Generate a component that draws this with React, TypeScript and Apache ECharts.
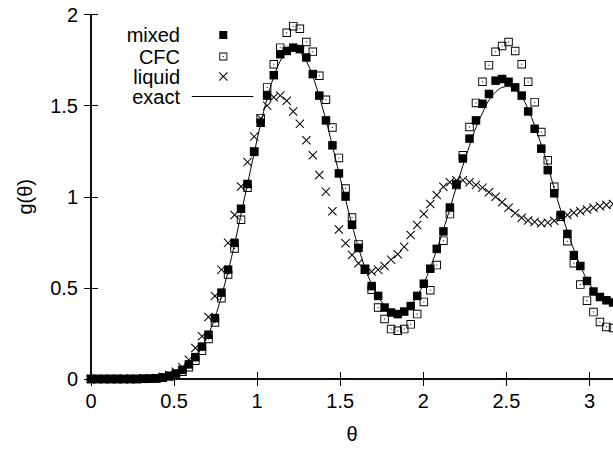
import React, { useEffect, useRef } from "react";
import * as echarts from "echarts";

const theta = [
  0, 0.039, 0.079, 0.118, 0.157, 0.196, 0.236, 0.275, 0.314, 0.353,
  0.393, 0.432, 0.471, 0.511, 0.55, 0.589, 0.628, 0.668, 0.707, 0.746,
  0.785, 0.825, 0.864, 0.903, 0.942, 0.982, 1.021, 1.06, 1.1, 1.139,
  1.178, 1.217, 1.257, 1.296, 1.335, 1.374, 1.414, 1.453, 1.492, 1.532,
  1.571, 1.61, 1.649, 1.689, 1.728, 1.767, 1.806, 1.846, 1.885, 1.924,
  1.963, 2.003, 2.042, 2.081, 2.121, 2.16, 2.199, 2.238, 2.278, 2.317,
  2.356, 2.395, 2.435, 2.474, 2.513, 2.553, 2.592, 2.631, 2.67, 2.71,
  2.749, 2.788, 2.827, 2.867, 2.906, 2.945, 2.985, 3.024, 3.063, 3.102,
  3.142,
];

const mixed = [
  0, 0, 0, 0, 0, 0, 0, 0, 0.001, 0.002,
  0.004, 0.009, 0.018, 0.03, 0.05, 0.08, 0.12, 0.178, 0.243, 0.334,
  0.474, 0.6, 0.747, 0.934, 1.07, 1.246, 1.406, 1.555, 1.667, 1.782,
  1.8, 1.818, 1.81, 1.764, 1.673, 1.555, 1.419, 1.282, 1.128, 1.001,
  0.846, 0.719, 0.605, 0.51, 0.456, 0.392, 0.365, 0.356, 0.37, 0.4,
  0.456, 0.523, 0.605, 0.714, 0.81, 0.941, 1.068, 1.21, 1.319, 1.419,
  1.51, 1.564, 1.637, 1.646, 1.631, 1.6, 1.555, 1.468, 1.373, 1.264,
  1.146, 1.019, 0.9, 0.796, 0.68, 0.62, 0.538, 0.48, 0.45, 0.432,
  0.42,
];

const cfc = [
  0, 0, 0, 0, 0, 0, 0, 0, 0.001, 0.002,
  0.003, 0.007, 0.014, 0.025, 0.04, 0.065, 0.1, 0.155, 0.22, 0.31,
  0.443, 0.574, 0.716, 0.874, 1.05, 1.25, 1.43, 1.6, 1.727, 1.818,
  1.9, 1.936, 1.922, 1.849, 1.795, 1.664, 1.532, 1.38, 1.213, 1.045,
  0.886, 0.74, 0.6, 0.49, 0.392, 0.329, 0.274, 0.265, 0.274, 0.3,
  0.356, 0.423, 0.487, 0.625, 0.759, 0.905, 1.064, 1.228, 1.383, 1.515,
  1.631, 1.722, 1.795, 1.827, 1.849, 1.8, 1.727, 1.631, 1.519, 1.355,
  1.2, 1.055, 0.89, 0.756, 0.635, 0.518, 0.43, 0.367, 0.313, 0.286,
  0.28,
];

const liquid = [
  0, 0, 0, 0, 0, 0, 0, 0, 0.001, 0.002,
  0.005, 0.012, 0.022, 0.04, 0.065, 0.105, 0.17, 0.235, 0.34, 0.455,
  0.6, 0.747, 0.9, 1.056, 1.19, 1.33, 1.43, 1.5, 1.546, 1.555,
  1.527, 1.468, 1.4, 1.31, 1.228, 1.119, 1.028, 0.92, 0.82, 0.745,
  0.68, 0.635, 0.6, 0.59, 0.6, 0.62, 0.655, 0.685, 0.725, 0.79,
  0.845, 0.905, 0.96, 1.01, 1.055, 1.08, 1.09, 1.09, 1.08, 1.065,
  1.05, 1.025, 1.0, 0.97, 0.94, 0.91, 0.885, 0.87, 0.862, 0.855,
  0.858, 0.868, 0.885, 0.9, 0.912, 0.92, 0.93, 0.94, 0.948, 0.955,
  0.96,
];

const exact = [
  0, 0, 0, 0, 0, 0, 0, 0, 0, 0.002,
  0.004, 0.008, 0.016, 0.028, 0.048, 0.078, 0.118, 0.175, 0.245, 0.335,
  0.455, 0.59, 0.74, 0.905, 1.07, 1.24, 1.4, 1.54, 1.66, 1.745,
  1.795, 1.81, 1.795, 1.745, 1.66, 1.55, 1.42, 1.28, 1.13, 0.985,
  0.845, 0.72, 0.61, 0.52, 0.45, 0.405, 0.375, 0.365, 0.375, 0.405,
  0.455, 0.525, 0.61, 0.71, 0.82, 0.935, 1.055, 1.17, 1.28, 1.38,
  1.46, 1.53, 1.575, 1.6, 1.605, 1.59, 1.55, 1.48, 1.39, 1.285,
  1.17, 1.045, 0.925, 0.81, 0.71, 0.62, 0.545, 0.49, 0.45, 0.425,
  0.41,
];

const xTicks = { min: 0, interval: 0.5 };
const yTicks = { min: 0, max: 2, interval: 0.5 };
const seriesNames = ["mixed", "CFC", "liquid", "exact"];

const FONT = "Liberation Sans, Arial, Helvetica, sans-serif";

const OPEN_SQUARE =
  "path://M0,0H10V10H0Z M1.1,1.1V8.9H8.9V1.1Z M4.4,4.4H5.6V5.6H4.4Z";
const CROSS =
  "path://M0,0.8L0.8,0L5,4.2L9.2,0L10,0.8L5.8,5L10,9.2L9.2,10L5,5.8L0.8,10L0,9.2L4.2,5Z";

export default function App() {
  const ref = useRef<HTMLDivElement>(null);

  useEffect(() => {
    if (!ref.current) return;
    const chart = echarts.init(ref.current, undefined, { renderer: "svg" });

    const axisLine = { show: true, lineStyle: { color: "#000", width: 1.5 } };
    const axisTick = { show: true, inside: true, length: 7, lineStyle: { color: "#000", width: 1 } };
    const labelStyle = { color: "#000", fontSize: 20, fontFamily: FONT };
    const legendText = { color: "#000", fontSize: 20, fontFamily: FONT };

    const mk = (vals: number[]) => theta.map((t, k) => [t, vals[k]]);

    const legendBase = {
      orient: "horizontal",
      align: "right",
      padding: 0,
      itemGap: 0,
      selectedMode: false,
      itemWidth: 8,
      itemHeight: 8,
    };

    const option: any = {
      animation: false,
      backgroundColor: "#fff",
      grid: { left: 91, right: 0, top: 14.5, bottom: 66.5, containLabel: false },
      xAxis: [
        {
          type: "value",
          position: "bottom",
          min: xTicks.min,
          max: Math.PI,
          interval: xTicks.interval,
          axisLine,
          axisTick,
          splitLine: { show: false },
          axisLabel: { ...labelStyle, margin: 12, showMaxLabel: false },
          name: "θ",
          nameLocation: "middle",
          nameGap: 45,
          nameTextStyle: labelStyle,
        },
        {
          type: "value",
          position: "top",
          min: xTicks.min,
          max: Math.PI,
          interval: xTicks.interval,
          axisLine,
          axisTick,
          splitLine: { show: false },
          axisLabel: { show: false },
        },
      ],
      yAxis: [
        {
          type: "value",
          position: "left",
          min: yTicks.min,
          max: yTicks.max,
          interval: yTicks.interval,
          axisLine,
          axisTick,
          splitLine: { show: false },
          axisLabel: { ...labelStyle, margin: 13 },
          name: "g(θ)",
          nameLocation: "middle",
          nameGap: 56,
          nameTextStyle: labelStyle,
        },
        {
          type: "value",
          position: "right",
          min: yTicks.min,
          max: yTicks.max,
          interval: yTicks.interval,
          axisLine,
          axisTick,
          splitLine: { show: false },
          axisLabel: { show: false },
        },
      ],
      legend: [
        {
          ...legendBase,
          data: [seriesNames[0]],
          right: 613 - 227.3,
          top: 25,
          textStyle: { ...legendText, padding: [0, 34.3, 0, 0] },
        },
        {
          ...legendBase,
          data: [seriesNames[1]],
          right: 613 - 227.3,
          top: 46.5,
          textStyle: { ...legendText, padding: [0, 34.3, 0, 0] },
        },
        {
          ...legendBase,
          data: [seriesNames[2]],
          right: 613 - 227.8,
          top: 66.5,
          itemWidth: 9,
          itemHeight: 9,
          textStyle: { ...legendText, padding: [0, 33.8, 0, 0] },
        },
        {
          ...legendBase,
          data: [{ name: seriesNames[3], icon: "rect" }],
          right: 613 - 253.3,
          top: 86.5,
          itemWidth: 61.6,
          itemHeight: 1.2,
          textStyle: { ...legendText, padding: [0, 6.7, 0, 0] },
        },
      ],
      series: [
        {
          name: seriesNames[3],
          type: "line",
          data: mk(exact),
          symbol: "none",
          showSymbol: false,
          smooth: 0.3,
          lineStyle: { color: "#000", width: 1 },
          itemStyle: { color: "#000" },
          z: 2,
        },
        {
          name: seriesNames[0],
          type: "scatter",
          data: mk(mixed),
          symbol: "rect",
          symbolSize: 8.5,
          itemStyle: { color: "#000", opacity: 1 },
          z: 3,
        },
        {
          name: seriesNames[1],
          type: "scatter",
          data: mk(cfc),
          symbol: OPEN_SQUARE,
          symbolSize: 8.5,
          itemStyle: { color: "#000", opacity: 1 },
          z: 4,
        },
        {
          name: seriesNames[2],
          type: "scatter",
          data: mk(liquid),
          symbol: CROSS,
          symbolSize: 9,
          itemStyle: { color: "#000", opacity: 1 },
          z: 5,
        },
      ],
    };

    chart.setOption(option);
    return () => chart.dispose();
  }, []);

  return (
    <div
      ref={ref}
      style={{ position: "absolute", left: 0, top: 0, width: 613, height: 449, background: "#fff" }}
    />
  );
}
